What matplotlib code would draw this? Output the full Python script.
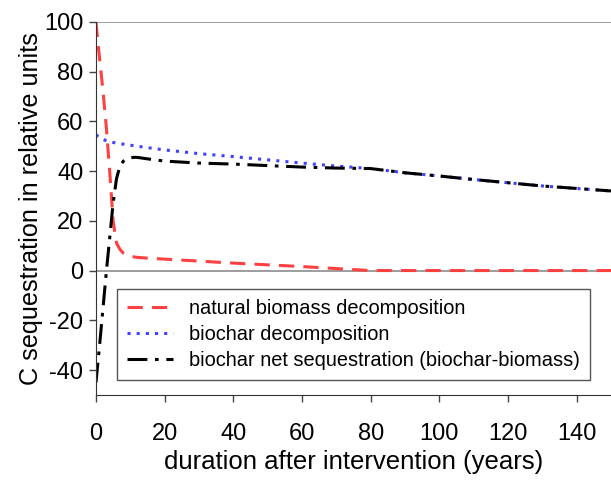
import numpy as np
import matplotlib.pyplot as plt

plt.rcParams["font.family"] = ["Liberation Sans", "DejaVu Sans"]
plt.rcParams["axes.unicode_minus"] = False

# years after intervention
years = [0, 1, 2, 3, 4, 5, 6, 7, 8, 9, 10, 11, 12, 15, 20, 30, 40, 50, 60,
         70, 80, 90, 100, 110, 120, 130, 140, 150]
# natural biomass decomposition
biomass = [100, 86, 73, 58, 40, 20, 11, 8.5, 7, 6.3, 5.8, 5.5, 5.3, 5.0, 4.6,
           3.8, 3.0, 2.3, 1.6, 0.8, 0, 0, 0, 0, 0, 0, 0, 0]
# biochar decomposition
biochar = [54.6, 53.5, 52.8, 52.2, 51.8, 51.5, 51.2, 51.0, 50.8, 50.6, 50.4,
           50.2, 50.0, 49.4, 48.5, 47.0, 45.8, 44.5, 43.2, 42.0, 41.0, 39.3,
           38.0, 36.6, 35.3, 34.0, 33.0, 32.0]
# net sequestration (biochar - biomass)
net = [-45, -31, -16, -1, 13, 27, 37, 42, 44, 45, 45.3, 45.5, 45.5, 44.9,
       44.0, 43.2, 42.8, 42.2, 41.6, 41.2, 41.0, 39.3, 38.0, 36.6, 35.3, 34.0,
       33.0, 32.0]

fig = plt.figure(figsize=(6.11, 4.84), dpi=100)
ax = fig.add_axes([0.157, 0.184, 0.843, 0.771])

ax.axhline(0, color="#8c8c8c", lw=1.2, zorder=1)
ax.axhline(100, color="#8c8c8c", lw=1.2, zorder=1)

ax.plot(years, biomass, color="#ff4040", ls=(0, (5, 3)), lw=2.2,
        label="natural biomass decomposition")
ax.plot(years, biochar, color="#4040ff", ls=(0, (1, 2)), lw=2.2,
        label="biochar decomposition")
ax.plot(years, net, color="black", ls=(0, (6.5, 2.5, 1.2, 2.5)), lw=2.2,
        label="biochar net sequestration (biochar-biomass)")

ax.set_xlim(0, 150)
ax.set_ylim(-50, 100)
ax.set_xticks(np.arange(0, 141, 20))
ax.set_yticks(np.arange(-40, 101, 20))
ax.spines["top"].set_visible(False)
ax.spines["right"].set_visible(False)
ax.spines["left"].set_color("#333333")
ax.spines["bottom"].set_color("#333333")
ax.tick_params(labelsize=17, length=5, width=1, color="#444444")
ax.tick_params(axis="x", pad=15)
ax.tick_params(axis="y", pad=4)
ax.set_xlabel("duration after intervention (years)", fontsize=18.5, labelpad=4)
ax.set_ylabel("C sequestration in relative units", fontsize=18.2, labelpad=1)

leg = ax.legend(loc="lower left", bbox_to_anchor=(0.041, 0.04), fontsize=14.4,
                fancybox=False, edgecolor="#555555", framealpha=1,
                handlelength=2.3, handletextpad=0.8, borderpad=0.5,
                labelspacing=0.35, borderaxespad=0)
leg.get_frame().set_linewidth(1.0)

fig.savefig("out.png", dpi=100)
